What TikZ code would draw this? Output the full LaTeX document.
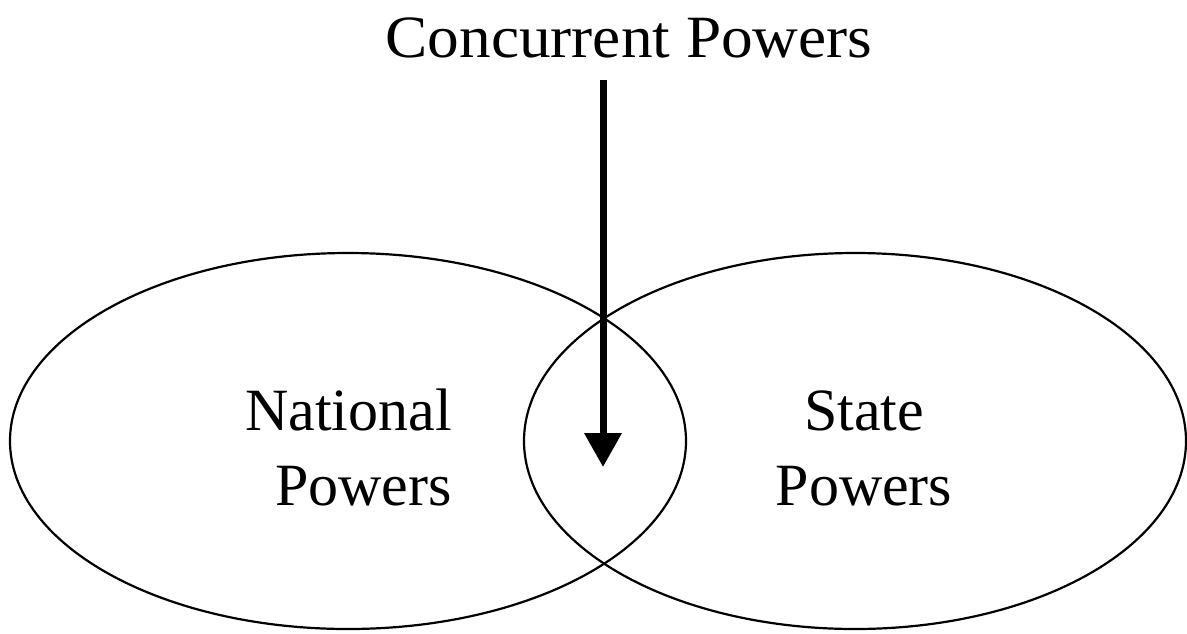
\documentclass[tikz,border=0pt]{standalone}
\usepackage{fontspec}
\setmainfont{Liberation Serif}
\usetikzlibrary{shapes.geometric,arrows.meta}
\begin{document}
\begin{tikzpicture}[x=1pt,y=-1pt,
  setring/.style={draw=black, line width=2.2pt, ellipse, inner sep=0pt},
  lbl/.style={font=\fontsize{60}{75}\selectfont, inner sep=0pt},
  bigarrow/.style={line width=7pt, -{Triangle[width=36pt,length=34pt]}}]
\useasboundingbox[fill=white] (0,0) rectangle (1187,633);
\node[setring, minimum width=676pt, minimum height=376pt] (national) at (348,441) {};
\node[setring, minimum width=662pt, minimum height=376pt] (state) at (855,441) {};
\node[lbl, anchor=base, xscale=1.055] (title) at (629,57) {Concurrent Powers};
\node[lbl, align=right, anchor=base east] (natlbl) at (452,505) {National\\Powers};
\node[lbl, align=center, anchor=base] (statelbl) at (864,505) {State\\Powers};
\coordinate (start) at (603,80);
\coordinate (tip) at (603,467);
\draw[bigarrow] (start) -- (tip);
\end{tikzpicture}
\end{document}
